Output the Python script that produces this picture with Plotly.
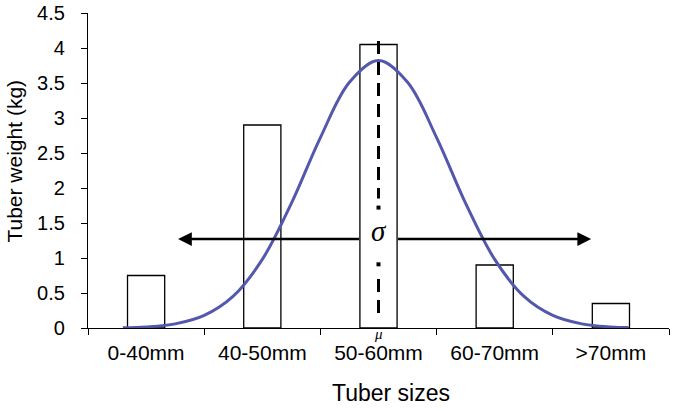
import plotly.graph_objects as go

categories = ["0-40mm", "40-50mm", "50-60mm", "60-70mm", ">70mm"]
weights = [0.75, 2.9, 4.05, 0.9, 0.35]

# fitted normal curve (x in category units)
curve_x = [-0.2, 0.0, 0.25, 0.5, 0.75, 1.0, 1.25, 1.5, 1.75, 2.0,
           2.25, 2.5, 2.75, 3.0, 3.25, 3.5, 3.75, 4.0, 4.15]
curve_y = [0.005, 0.016, 0.059, 0.18, 0.455, 0.98, 1.78, 2.72, 3.51, 3.82,
           3.51, 2.72, 1.78, 0.98, 0.455, 0.18, 0.059, 0.016, 0.007]

y_ticks = [0, 0.5, 1, 1.5, 2, 2.5, 3, 3.5, 4, 4.5]
y_tick_text = ["0", "0.5", "1", "1.5", "2", "2.5", "3", "3.5", "4", "4.5"]

x_title = "Tuber sizes"
y_title = "Tuber weight (kg)"

mu_x = 2.0
sigma_y = 1.27

fig = go.Figure()

fig.add_trace(go.Bar(
    x=categories, y=weights, width=0.32,
    marker=dict(color="white", line=dict(color="black", width=1.3)),
    xaxis="x", yaxis="y", showlegend=False, hoverinfo="skip",
))

fig.add_trace(go.Scatter(
    x=curve_x, y=curve_y, mode="lines", line=dict(color="rgb(84,88,172)", width=3, shape="spline"),
    xaxis="x2", yaxis="y", showlegend=False, hoverinfo="skip",
))

# dashed mean line (top and bottom segments) with dots
fig.add_trace(go.Scatter(
    x=[mu_x, mu_x], y=[4.1, 1.85], mode="lines",
    line=dict(color="black", width=3, dash="13px,8px"),
    xaxis="x2", yaxis="y", showlegend=False, hoverinfo="skip",
))
fig.add_trace(go.Scatter(
    x=[mu_x, mu_x], y=[0.7, 0.18], mode="lines",
    line=dict(color="black", width=3, dash="13px,8px"),
    xaxis="x2", yaxis="y", showlegend=False, hoverinfo="skip",
))
fig.add_trace(go.Scatter(
    x=[mu_x, mu_x], y=[1.72, 0.91], mode="markers",
    marker=dict(color="black", size=4, symbol="square"),
    xaxis="x2", yaxis="y", showlegend=False, hoverinfo="skip",
))

# sigma arrows
fig.add_annotation(x=0.275, y=sigma_y, ax=1.845, ay=sigma_y, xref="x2", yref="y",
                   axref="x2", ayref="y", showarrow=True, arrowhead=2, arrowsize=1.1,
                   arrowwidth=2.5, arrowcolor="black", text="")
fig.add_annotation(x=3.83, y=sigma_y, ax=2.155, ay=sigma_y, xref="x2", yref="y",
                   axref="x2", ayref="y", showarrow=True, arrowhead=2, arrowsize=1.1,
                   arrowwidth=2.5, arrowcolor="black", text="")
fig.add_annotation(x=mu_x, y=1.38, xref="x2", yref="y", text="<i>σ</i>", showarrow=False,
                   font=dict(family="Liberation Serif", size=29, color="black"))
fig.add_annotation(x=mu_x, y=0, xref="x2", yref="y", text="<i>μ</i>", showarrow=False,
                   yanchor="top", yshift=4,
                   font=dict(family="Liberation Serif", size=15, color="black"))

# axis titles
fig.add_annotation(x=0.5215, y=-0.206, xref="paper", yref="paper", text=x_title,
                   showarrow=False, xanchor="center", yanchor="middle",
                   font=dict(size=23))
fig.add_annotation(x=-0.1265, y=0.53, xref="paper", yref="paper", text=y_title,
                   showarrow=False, xanchor="center", yanchor="middle", textangle=-90,
                   font=dict(size=21))

fig.update_layout(
    width=685, height=411,
    margin=dict(l=88, r=16, t=13, b=83),
    plot_bgcolor="white", paper_bgcolor="white",
    font=dict(family="Liberation Sans", color="black"),
    showlegend=False,
    xaxis=dict(
        type="category", categoryorder="array", categoryarray=categories,
        range=[-0.5, 4.5], tickson="boundaries", ticks="outside", ticklen=6,
        tickcolor="black", showline=True, linecolor="black", linewidth=1.3,
        showgrid=False, tickfont=dict(size=21), ticklabelstandoff=6,
        automargin=False,
    ),
    xaxis2=dict(overlaying="x", range=[-0.5, 4.5], visible=False),
    yaxis=dict(
        range=[0, 4.5], tickvals=y_ticks, ticktext=y_tick_text,
        ticks="outside", ticklen=6, tickcolor="black", showline=True,
        linecolor="black", linewidth=1.3, showgrid=False, zeroline=False,
        tickfont=dict(size=20), ticklabelstandoff=12, automargin=False,
    ),
)

fig.write_html("out.html", config={"displayModeBar": False},
               post_script="document.body.style.margin='0';document.body.style.overflow='hidden';")
